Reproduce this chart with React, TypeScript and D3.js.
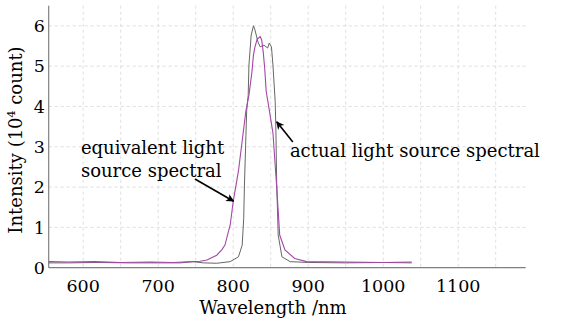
import * as d3 from "d3"

// actual light source spectral (dark gray curve)
const actualWavelength = [554, 580, 620, 660, 700, 730, 746, 760, 778, 796, 807, 812, 814, 815, 817, 818, 820, 821, 824, 827, 829, 833, 836, 841, 846, 848, 851, 853, 856, 857, 858, 860, 865, 876, 900, 950, 1000, 1038]
const actualIntensity = [0.12, 0.12, 0.13, 0.12, 0.12, 0.12, 0.15, 0.12, 0.11, 0.15, 0.27, 0.56, 1.22, 2.05, 3.3, 3.9, 4.28, 5.03, 5.77, 6.0, 5.9, 5.6, 5.48, 5.52, 5.45, 5.57, 5.48, 5.03, 4.12, 3.34, 2.1, 0.81, 0.27, 0.15, 0.13, 0.12, 0.13, 0.12]

// equivalent light source spectral (purple curve)
const equivWavelength = [554, 580, 615, 650, 690, 720, 746, 756, 765, 778, 785, 789, 793, 796, 800, 807, 813, 817, 821, 825, 827, 829, 832, 836, 838, 840, 842, 844, 847, 853, 858, 862, 869, 882, 898, 950, 1000, 1038]
const equivIntensity = [0.15, 0.14, 0.15, 0.13, 0.14, 0.13, 0.15, 0.16, 0.19, 0.31, 0.45, 0.56, 0.85, 1.06, 1.64, 2.4, 3.3, 3.9, 4.28, 4.86, 5.28, 5.48, 5.67, 5.73, 5.65, 5.36, 4.95, 4.37, 4.04, 3.34, 2.0, 0.81, 0.44, 0.23, 0.15, 0.14, 0.13, 0.14]

const xTicks = [600, 700, 800, 900, 1000, 1100]
const xGrid = [600, 650, 700, 750, 800, 850, 900, 950, 1000, 1050, 1100, 1150]
const yTicks = [0, 1, 2, 3, 4, 5, 6]

const width = 567
const height = 331
const font = "'DejaVu Serif', serif"

export default function App() {
  const x = d3.scaleLinear().domain([554, 1190]).range([48.7, 525.7])
  const y = d3.scaleLinear().domain([0, 6.5]).range([267.7, 5.7])

  const line = d3
    .line<[number, number]>()
    .x((d) => x(d[0]))
    .y((d) => y(d[1]))

  const actual = actualWavelength.map((w, i) => [w, actualIntensity[i]] as [number, number])
  const equiv = equivWavelength.map((w, i) => [w, equivIntensity[i]] as [number, number])

  // annotation arrows in data units: [tail, tip]
  const arrow1 = [[749, 2.2], [800.5, 1.65]]
  const arrow2 = [[879.5, 3.12], [858, 3.62]]

  return (
    <svg width={width} height={height} style={{ position: "absolute", left: 0, top: 0, background: "#fff" }}>
      <defs>
        <marker id="head" viewBox="0 0 10 10" refX="9" refY="5" markerWidth="11" markerHeight="8" markerUnits="userSpaceOnUse" orient="auto">
          <path d="M0,0 L10,5 L0,10 L2.5,5 Z" fill="#000" />
        </marker>
      </defs>

      {/* grid */}
      <g stroke="#d6d6d6" strokeWidth={0.8} strokeDasharray="3,3">
        {xGrid.map((v) => (
          <line key={"gx" + v} x1={x(v)} x2={x(v)} y1={y(6.5)} y2={y(0)} />
        ))}
        {yTicks.slice(1).map((v) => (
          <line key={"gy" + v} x1={x(554)} x2={x(1190)} y1={y(v)} y2={y(v)} />
        ))}
      </g>

      {/* axes */}
      <line x1={x(554)} x2={x(554)} y1={y(6.5)} y2={y(0)} stroke="#808080" strokeWidth={1.2} />
      <line x1={x(554)} x2={x(1190)} y1={y(0)} y2={y(0)} stroke="#808080" strokeWidth={1.2} />

      <g fontFamily={font} fontSize={17.5} fill="#000">
        {xTicks.map((v) => (
          <text key={"tx" + v} x={x(v)} y={291.5} textAnchor="middle">
            {v}
          </text>
        ))}
        {yTicks.map((v) => (
          <text key={"ty" + v} x={45} y={y(v)} dy="0.36em" textAnchor="end">
            {v}
          </text>
        ))}
      </g>

      {/* series */}
      <path d={line(actual) ?? ""} fill="none" stroke="#555" strokeWidth={0.9} />
      <path d={line(equiv) ?? ""} fill="none" stroke="#a447a8" strokeWidth={1.1} />

      {/* annotations */}
      <g fontFamily={font} fontSize={18} fill="#000">
        <text x={x(597)} y={y(2.81)}>equivalent light</text>
        <text x={x(597)} y={y(2.26)}>source spectral</text>
        <text x={x(875.6)} y={y(2.75)}>actual light source spectral</text>
      </g>
      <line x1={x(arrow1[0][0])} y1={y(arrow1[0][1])} x2={x(arrow1[1][0])} y2={y(arrow1[1][1])} stroke="#000" strokeWidth={1.6} markerEnd="url(#head)" />
      <line x1={x(arrow2[0][0])} y1={y(arrow2[0][1])} x2={x(arrow2[1][0])} y2={y(arrow2[1][1])} stroke="#000" strokeWidth={1.6} markerEnd="url(#head)" />

      {/* axis titles */}
      <text x={273} y={314} textAnchor="middle" fontFamily={font} fontSize={18} fill="#000">
        Wavelength /nm
      </text>
      <text transform="translate(21.5,140) rotate(-90)" textAnchor="middle" fontFamily={font} fontSize={18} fill="#000">
        Intensity (10<tspan fontSize={11} dy="-7">4</tspan>
        <tspan dy="7"> count)</tspan>
      </text>
    </svg>
  )
}
